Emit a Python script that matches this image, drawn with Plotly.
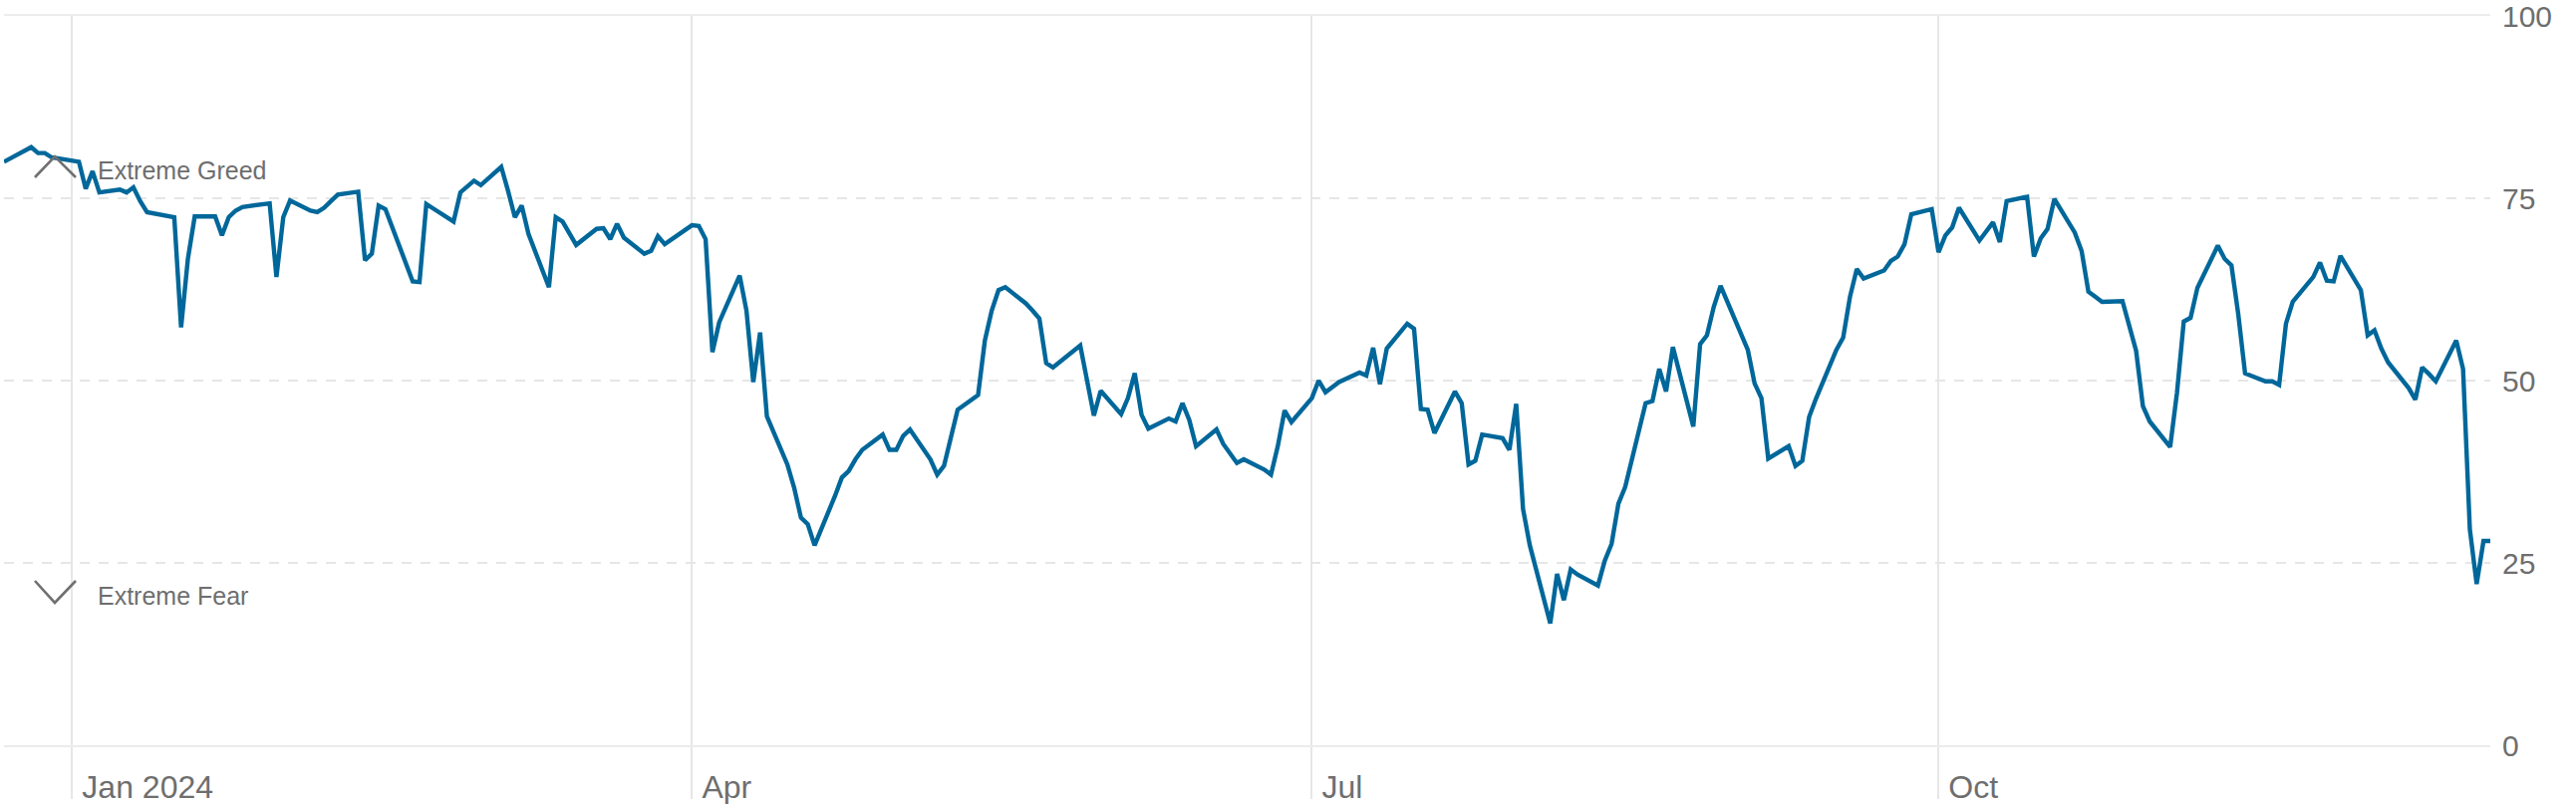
import pandas as pd
import plotly.graph_objects as go

# CNN Fear & Greed index, daily closes (trading days)
vals_2023_dec = [80.0, 82.0, 81.2, 81.2, 80.6]
vals_jan = [80.0, 76.3, 78.7, 75.8, 76.2, 75.8, 76.5, 74.6, 73.1, 72.4, 57.3, 66.7, 72.5, 72.5,
            69.9, 72.4, 73.3, 73.8, 74.2, 74.3, 64.2]
vals_feb = [72.4, 74.7, 73.3, 73.1, 73.7, 74.6, 75.5, 75.9, 66.5, 67.4, 74.0, 73.5, 63.6, 63.5,
            74.2, 73.6, 71.8, 75.8, 76.7, 77.4]
vals_mar = [76.8, 79.3, 76.0, 72.4, 74.0, 70.1, 62.8, 72.4, 71.8, 70.3, 68.6, 70.8, 70.9, 69.4,
            71.5, 69.6, 67.4, 67.8, 69.8, 68.7]
vals_apr = [71.3, 71.2, 69.4, 53.9, 58.0, 64.4, 59.6, 49.8, 56.6, 45.1, 38.5, 35.3, 31.2, 30.3,
            27.4, 34.2, 36.7, 37.6, 39.2, 40.5, 42.6, 40.5]
vals_may = [40.5, 42.4, 43.3, 39.2, 37.1, 38.3, 42.3, 46.0, 48.0, 55.5, 59.6, 62.4, 62.8, 60.6,
            59.6, 58.5, 52.4, 51.8, 54.8, 50.0, 45.2, 48.6]
vals_jun = [45.4, 47.6, 51.0, 45.3, 43.4, 44.8, 44.4, 46.9, 44.6, 41.0, 43.3, 41.3, 38.7, 39.2,
            37.8, 37.1, 41.0, 45.9, 44.3]
vals_jul = [47.6, 50.0, 48.4, 49.8, 51.1, 50.7, 54.5, 49.5, 54.4, 57.8, 57.1, 46.1, 46.0, 42.8,
            48.5, 46.9, 38.5, 39.0, 42.6, 42.1, 40.5, 46.8]
vals_aug = [32.4, 27.4, 16.7, 23.5, 19.9, 24.1, 23.4, 21.9, 25.3, 27.6, 33.1, 35.4, 46.9, 47.2,
            51.6, 48.5, 54.6, 43.7, 55.0, 56.2, 60.1, 63.0]
vals_sep = [54.2, 49.6, 47.6, 39.3, 41.0, 38.3, 39.0, 45.0, 47.5, 54.2, 55.9, 61.5, 65.3, 64.0,
            65.1, 66.4, 67.0, 68.7, 72.8, 73.5]
vals_oct = [67.6, 69.9, 71.0, 73.7, 69.2, 70.4, 71.7, 69.0, 74.6, 75.2, 67.0, 69.5, 70.8, 74.9,
            70.3, 67.8, 62.2, 61.5, 60.8, 60.9, 57.6, 54.1, 46.5]
vals_nov = [44.4, 40.9, 48.3, 58.1, 58.6, 62.7, 68.5, 66.7, 65.8, 59.1, 51.0, 49.9, 49.9, 49.4,
            57.8, 60.8, 64.2, 66.2, 63.7, 63.6, 67.1]
vals_dec = [62.4, 56.2, 56.9, 54.4, 52.5, 49.0, 47.4, 51.8, 50.9, 49.9, 55.5, 51.6, 29.6, 22.1,
            28.0, 28.0]

market_holidays = ["2023-12-25", "2024-01-01", "2024-01-15", "2024-02-19", "2024-03-29",
                   "2024-05-27", "2024-06-19", "2024-07-04", "2024-09-02"]
latest_reading = ["2024-12-21"]

tick_dates = ["2024-01-01", "2024-04-01", "2024-07-01", "2024-10-01"]
tick_labels = ["Jan 2024", "Apr", "Jul", "Oct"]
y_ticks = [0, 25, 50, 75, 100]
zone_labels = ["Extreme Greed", "Extreme Fear"]

values = (vals_2023_dec + vals_jan + vals_feb + vals_mar + vals_apr + vals_may + vals_jun +
          vals_jul + vals_aug + vals_sep + vals_oct + vals_nov + vals_dec)
days = pd.bdate_range("2023-12-22", "2024-12-20")
days = days[~days.isin(pd.to_datetime(market_holidays))]
dates = list(days.strftime("%Y-%m-%d")) + latest_reading
assert len(dates) == len(values), (len(dates), len(values))

W, H = 2585, 807
ML, MR, MT, MB = 4, 86, 16, 59
GRAY = "#6e6e6e"
GRID = "#e6e6e6"
FONT = "Liberation Sans, Arial, sans-serif"

fig = go.Figure()
fig.add_trace(go.Scatter(x=dates, y=values, mode="lines",
                         line=dict(color="#00679a", width=4.4), hoverinfo="skip"))

pw, ph = W - ML - MR, H - MT - MB
def px(xp):
    return (xp - ML) / pw
def py(yp):
    return (H - MB - yp) / ph

# chevrons beside the zone labels
up = [(35, 178), (55, 157), (76, 178)]
dn = [(35, 583), (55, 605), (76, 583)]
for pts in (up, dn):
    path = "M " + " L ".join(f"{px(a):.5f},{py(b):.5f}" for a, b in pts)
    fig.add_shape(type="path", path=path, xref="paper", yref="paper",
                  line=dict(color="#707070", width=2.6))

for txt, yp in zip(zone_labels, (171, 598)):
    fig.add_annotation(text=txt, x=px(97), y=py(yp), xref="paper", yref="paper",
                       xanchor="left", yanchor="middle", showarrow=False, borderpad=0,
                       font=dict(size=25, color=GRAY, family=FONT))

fig.update_layout(
    width=W, height=H, margin=dict(l=ML, r=MR, t=MT, b=MB, autoexpand=False),
    plot_bgcolor="white", paper_bgcolor="white", showlegend=False,
    font=dict(family=FONT, color=GRAY),
)
fig.update_xaxes(
    type="date", range=[dates[0], dates[-1]], automargin=False,
    tickmode="array", tickvals=tick_dates, ticktext=tick_labels,
    showgrid=True, gridcolor=GRID, gridwidth=2,
    ticks="outside", ticklen=52, tickcolor=GRID, tickwidth=2,
    ticklabelposition="outside right", ticklabelstandoff=13, ticklabelshift=8,
    ticklabeloverflow="allow",
    tickfont=dict(size=32, color=GRAY, family=FONT),
    showline=True, mirror=True, linecolor="#ececec", linewidth=2, zeroline=False,
)
fig.update_yaxes(
    side="right", range=[0, 100], tickmode="array", tickvals=y_ticks, automargin=False,
    showgrid=True, gridcolor=GRID, gridwidth=2, griddash="10px,9px",
    zeroline=True, zerolinecolor="#e2e2e2", zerolinewidth=3,
    ticks="outside", ticklen=5, tickcolor="rgba(0,0,0,0)", ticklabeloverflow="allow",
    tickfont=dict(size=30, color=GRAY, family=FONT), showline=False,
)

fig.write_html("out.html", config={"displayModeBar": False},
               post_script="document.body.style.margin='0';")
